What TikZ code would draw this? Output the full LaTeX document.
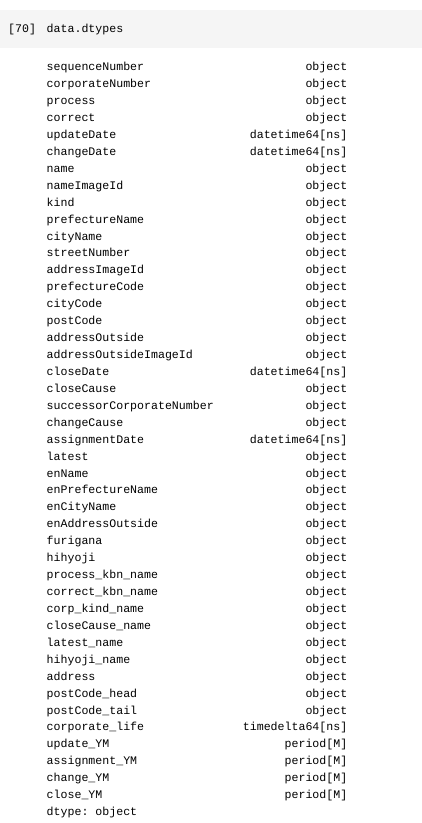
\documentclass[tikz,border=0pt]{standalone}
\usepackage{fontspec}
\setmonofont{Liberation Mono}
\definecolor{cellgray}{HTML}{F5F5F5}
\begin{document}
\begin{tikzpicture}[x=1pt,y=-1pt,font=\ttfamily\fontsize{11.6}{14}\selectfont,
  colname/.style={anchor=base west,inner sep=0pt},
  coltype/.style={anchor=base east,inner sep=0pt}]
\def \xname{46.5};
\def \xtype{347.5};
\def \ytop{70.7};
\def \rowh{16.93};
\useasboundingbox (0,0) rectangle (422,823);
\fill[cellgray] (0,10) rectangle (422,48);
\node[colname] (prompt) at (8,32) {[70]};
\node[colname] (cell) at (\xname,32) {data.dtypes};
\foreach \n/\t [count=\i] in {sequenceNumber/object,corporateNumber/object,process/object,correct/object,
  updateDate/datetime64[ns],changeDate/datetime64[ns],name/object,nameImageId/object,kind/object,
  prefectureName/object,cityName/object,streetNumber/object,addressImageId/object,prefectureCode/object,
  cityCode/object,postCode/object,addressOutside/object,addressOutsideImageId/object,closeDate/datetime64[ns],
  closeCause/object,successorCorporateNumber/object,changeCause/object,assignmentDate/datetime64[ns],
  latest/object,enName/object,enPrefectureName/object,enCityName/object,enAddressOutside/object,
  furigana/object,hihyoji/object,process\_kbn\_name/object,correct\_kbn\_name/object,corp\_kind\_name/object,
  closeCause\_name/object,latest\_name/object,hihyoji\_name/object,address/object,postCode\_head/object,
  postCode\_tail/object,corporate\_life/timedelta64[ns],update\_YM/period[M],assignment\_YM/period[M],
  change\_YM/period[M],close\_YM/period[M]}{
  \node[colname] (name-\i) at (\xname,{\ytop+(\i-1)*\rowh}) {\n};
  \node[coltype] (type-\i) at (\xtype,{\ytop+(\i-1)*\rowh}) {\t};
}
\node[colname] (dtype) at (\xname,{\ytop+44*\rowh}) {dtype: object};
\end{tikzpicture}
\end{document}
